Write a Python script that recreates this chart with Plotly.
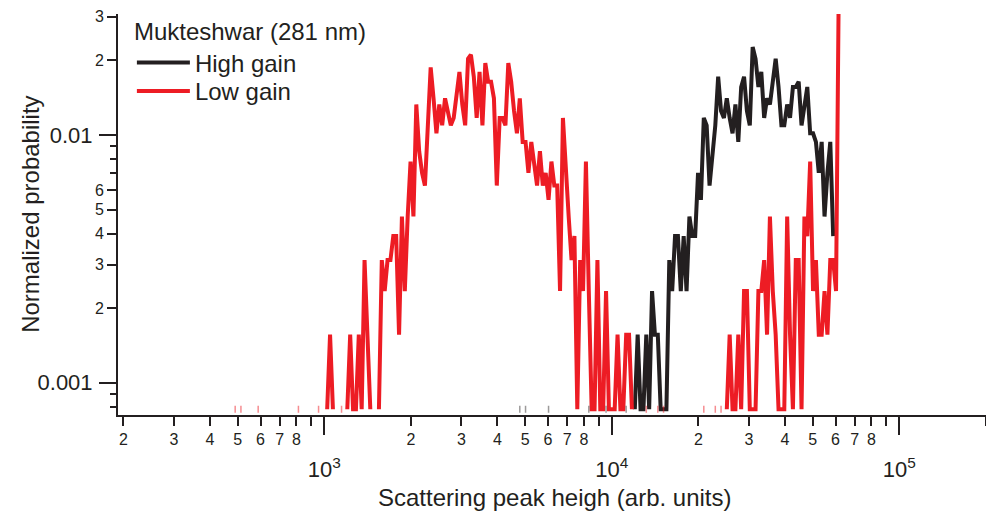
import plotly.graph_objects as go

# ---------------- data (histogram counts) ----------------
BINS_PER_DECADE = 100          # logarithmic bins
BIN0_VALUE = 1000.0            # peak height at bin index 0
COUNTS_PER_UNIT_PROB = 1280.0  # probability = count / COUNTS_PER_UNIT_PROB

low_gain_first_bin = -32
low_gain_counts = [
    0, 1, 0, 1, 0, 0, 0, 0, 0, 1, 0, 0, 0, 0, 0, 0, 0, 0, 0, 0, 0, 0, 0, 1, 0, 0, 0, 0, 0, 0, 1, 0,
    0, 1, 2, 1, 0, 0, 1, 0, 1, 2,
    1, 1, 2, 1, 4, 2, 1, 0, 0, 1,
    4, 3, 4, 4, 5, 5, 2, 6, 3, 6,
    10, 6, 17, 11, 9, 8,
    14, 24, 18, 13, 17, 14, 18, 16, 14, 15,
    19, 23, 17, 14, 26, 27, 22, 15, 23, 14,
    25, 21, 21, 18, 8, 15, 15, 14, 25, 21,
    16, 13, 18, 12, 12, 9,
    12, 10, 8, 11, 8, 9, 7, 10, 8, 8,
    3, 15, 9, 6, 4, 5, 1, 4, 3, 10,
    3, 1, 1, 4, 1, 1, 3, 1, 1, 1,
    2, 1, 1, 2, 2, 1,
    0, 0, 0, 0, 1, 0, 0, 0, 1, 0,
    1, 0, 0, 0, 0, 0, 0, 0, 0, 0, 0, 0, 0, 0,
    1, 0, 0, 0, 1, 0, 1, 0,
    1, 2, 1, 1, 2, 1, 3, 3, 1, 1,
    1, 3, 3, 4, 2, 6, 3, 2, 1, 1,
    1, 6, 2, 1, 4, 4, 1, 6, 5, 10,
    3, 4, 2, 2, 3, 2, 4, 4, 3, 60,
]

high_gain_first_bin = 66
high_gain_counts = [
    0, 0, 1, 0, 1, 0, 0, 0, 0, 0, 0, 0, 1,
    0, 0, 0, 0, 0, 0, 0, 0, 0, 0, 0, 0, 0, 1,
    0, 0, 0, 0, 0, 1, 0, 0, 0, 0, 0, 0, 1, 0, 0,
    1, 2, 1, 1, 2, 1, 3, 2, 2, 1,
    1, 1, 4, 3, 5, 5, 3, 5, 3, 6,
    5, 5, 9, 7, 15, 14, 8, 11, 14, 22,
    16, 15, 18, 15, 13, 17, 12, 20, 22, 16,
    14, 29, 26, 20, 23, 15, 18, 17, 21, 26,
    20, 14, 14, 17, 15, 20, 20, 21, 14, 17,
    20, 13, 13, 12, 9, 12, 6, 9, 12, 5,
]

series_names = ["High gain", "Low gain"]
legend_title = "Mukteshwar (281 nm)"

# axis ticks
x_decades = [1e2, 1e3, 1e4, 1e5]
x_decade_labels = ["10<sup>2</sup>", "10<sup>3</sup>", "10<sup>4</sup>", "10<sup>5</sup>"]
x_digits = [2, 3, 4, 5, 6, 7, 8]
x_digit_labels = ["2", "3", "4", "5", "6", "7", "8"]
x_unlabeled_digit = 9

y_decades = [0.001, 0.01]
y_decade_labels = ["0.001", "0.01"]
y_digit_vals = [0.002, 0.003, 0.004, 0.005, 0.006, 0.02, 0.03]
y_digit_labels = ["2", "3", "4", "5", "6", "2", "3"]
y_small_vals = [0.0008, 0.0009, 0.007, 0.008, 0.009]

# ---------------- styling ----------------
FONT = "Liberation Sans, Arial, Helvetica, sans-serif"
INK = "#231F20"
RED = "#ED1C24"
LINE_W = 4
X_RANGE = [2.2824, 5.3016]
Y_RANGE = [-3.1304, -1.5116]
X_MIN, X_MAX = 10 ** X_RANGE[0], 10 ** X_RANGE[1]


def build(first_bin, counts):
    xs, ys, sx, sy = [], [], [], []
    n = len(counts)
    for i, c in enumerate(counts):
        x = BIN0_VALUE * 10 ** ((first_bin + i) / BINS_PER_DECADE)
        xs.append(x)
        ys.append(c / COUNTS_PER_UNIT_PROB if c > 0 else None)
        left = counts[i - 1] if i > 0 else 0
        right = counts[i + 1] if i < n - 1 else 0
        if c > 0 and left == 0 and right == 0:
            sx.append(x)
            sy.append(c / COUNTS_PER_UNIT_PROB)
    return xs, ys, sx, sy


hx, hy, hsx, hsy = build(high_gain_first_bin, high_gain_counts)
lx, ly, lsx, lsy = build(low_gain_first_bin, low_gain_counts)

fig = go.Figure()
fig.add_trace(go.Scatter(x=hx, y=hy, mode="lines", name=series_names[0], legend="legend",
                         line=dict(color=INK, width=LINE_W), connectgaps=False))
fig.add_trace(go.Scatter(x=lx, y=ly, mode="lines", name=series_names[1], legend="legend2",
                         line=dict(color=RED, width=LINE_W), connectgaps=False))
# isolated single bins (drawn as tiny stubs in the original)
fig.add_trace(go.Scatter(x=hsx, y=hsy, mode="markers", showlegend=False, hoverinfo="skip",
                         marker=dict(symbol="line-ns", size=5, line=dict(color="rgba(35,31,32,0.45)", width=1.5))))
fig.add_trace(go.Scatter(x=lsx, y=lsy, mode="markers", showlegend=False, hoverinfo="skip",
                         marker=dict(symbol="line-ns", size=5, line=dict(color="rgba(237,28,36,0.5)", width=1.5))))
# carrier for the overlay axes that hold the digit tick labels
fig.add_trace(go.Scatter(x=[1000], y=[0.001], xaxis="x2", yaxis="y2", mode="markers",
                         marker=dict(opacity=0), showlegend=False, hoverinfo="skip"))


def in_x(v):
    return X_MIN <= v <= X_MAX


x_major_vals, x_major_text = [], []
x_digit_vals, x_digit_text, x_nine_vals = [], [], []
for dec, lab in zip(x_decades, x_decade_labels):
    if in_x(dec):
        x_major_vals.append(dec)
        x_major_text.append(lab)
    for d, t in zip(x_digits, x_digit_labels):
        if in_x(d * dec):
            x_digit_vals.append(d * dec)
            x_digit_text.append(t)
    if in_x(x_unlabeled_digit * dec):
        x_nine_vals.append(x_unlabeled_digit * dec)

common_x = dict(type="log", range=X_RANGE, showgrid=False, zeroline=False,
                ticks="outside", tickwidth=2, tickcolor=INK, tickmode="array")
common_y = dict(type="log", range=Y_RANGE, showgrid=False, zeroline=False,
                ticks="outside", tickwidth=2, tickcolor=INK, tickmode="array")

legend_common = dict(xanchor="left", yanchor="top", bgcolor="rgba(0,0,0,0)",
                     font=dict(size=24, color=INK), tracegroupgap=0, itemwidth=53)

fig.update_layout(
    width=986, height=511, autosize=False,
    margin=dict(l=118, r=0, t=14, b=96),
    paper_bgcolor="white", plot_bgcolor="white",
    font=dict(family=FONT, color=INK),
    xaxis=dict(**common_x, tickvals=x_major_vals, ticktext=x_major_text, ticklen=18,
               showline=True, linewidth=2, linecolor=INK,
               tickfont=dict(size=22, color=INK), ticklabelstandoff=16),
    xaxis2=dict(**common_x, overlaying="x", anchor="y", side="bottom",
                tickvals=x_digit_vals, ticktext=x_digit_text, ticklen=10,
                showline=False, tickfont=dict(size=16, color=INK),
                minor=dict(tickmode="array", tickvals=x_nine_vals, ticks="outside",
                           ticklen=10, tickwidth=2, tickcolor=INK)),
    yaxis=dict(**common_y, tickvals=y_decades, ticktext=y_decade_labels, ticklen=17,
               showline=True, linewidth=2, linecolor=INK,
               tickfont=dict(size=22, color=INK), ticklabelstandoff=2),
    yaxis2=dict(**common_y, overlaying="y", anchor="x", side="left",
                tickvals=y_digit_vals, ticktext=y_digit_labels, ticklen=10,
                showline=False, tickfont=dict(size=16, color=INK),
                minor=dict(tickmode="array", tickvals=y_small_vals, ticks="outside",
                           ticklen=7, tickwidth=2, tickcolor=INK)),
    legend=dict(x=0.016, y=1.012, **legend_common,
                title=dict(text=legend_title, font=dict(size=24, color=INK))),
    legend2=dict(x=0.016, y=0.863, **legend_common),
    showlegend=True,
    annotations=[
        dict(text="Scattering peak heigh (arb. units)", xref="paper", yref="paper",
             x=0.5035, y=-0.205, xanchor="center", yanchor="middle", showarrow=False,
             font=dict(size=24, color=INK)),
        dict(text="Normalized probability", xref="paper", yref="paper",
             x=-0.101, y=0.5, xanchor="center", yanchor="middle", showarrow=False,
             textangle=-90, font=dict(size=24, color=INK)),
    ],
)

fig.write_html("out.html")
